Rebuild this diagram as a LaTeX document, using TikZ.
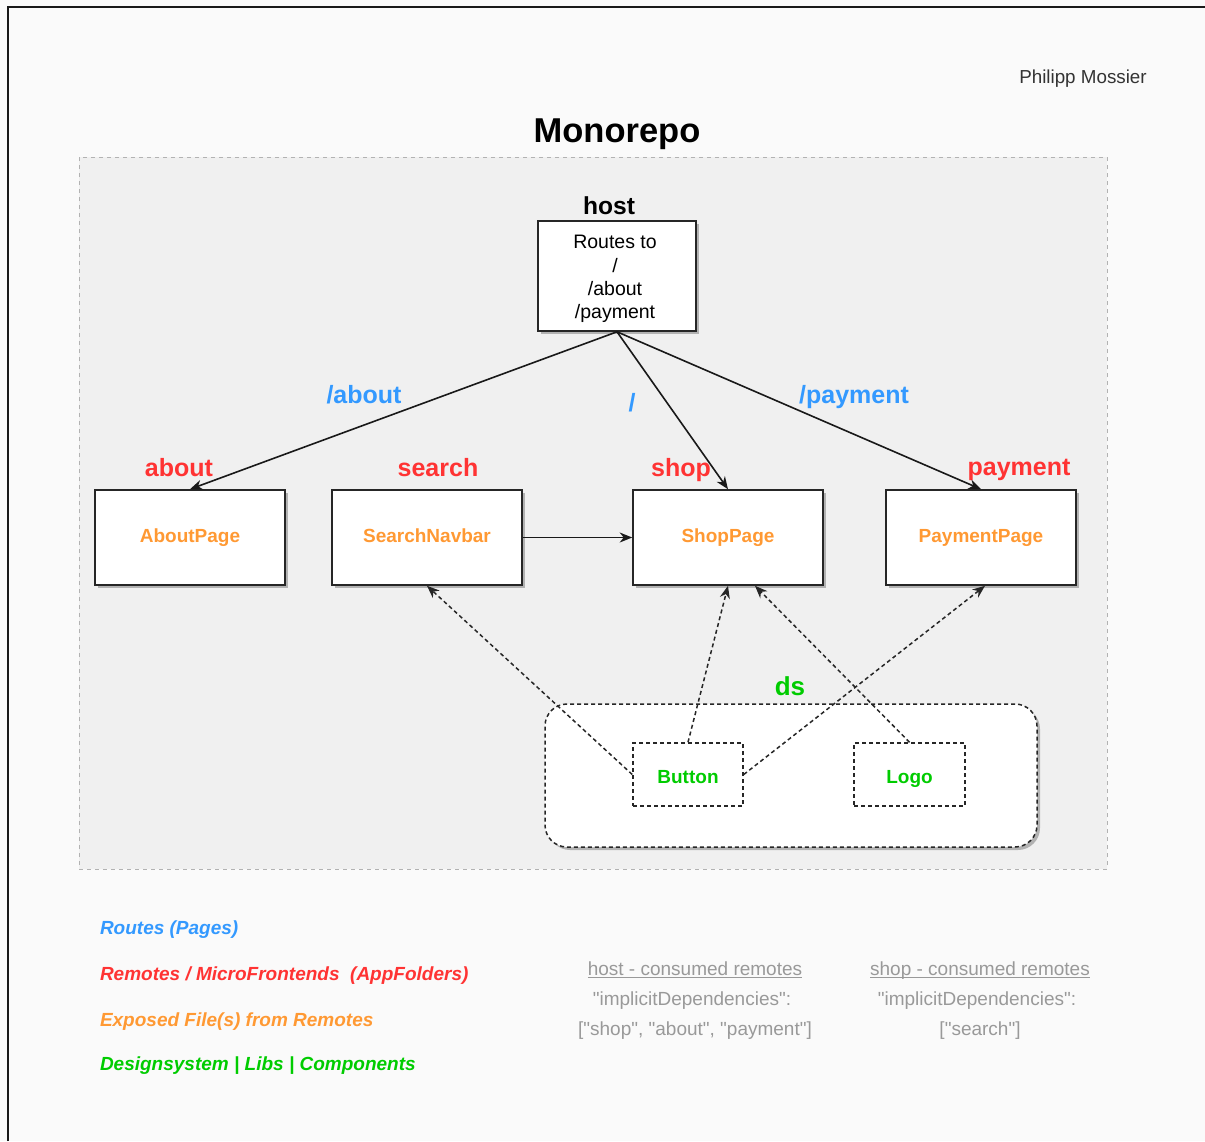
\documentclass[tikz,border=0pt]{standalone}
\usepackage{fontspec}
\setmainfont{Liberation Sans}
% straight quotation marks for the JSON snippets
\newfontfamily\jsonfont{Liberation Sans}[Ligatures=TeXOff]
\usetikzlibrary{arrows.meta,shadows,calc}

\definecolor{routeblue}{HTML}{3399FF}
\definecolor{remotered}{HTML}{FF3333}
\definecolor{exposeorange}{HTML}{FF9933}
\definecolor{dsgreen}{HTML}{00CC00}
\definecolor{notegray}{HTML}{999999}
\definecolor{pagebg}{HTML}{FAFAFA}
\definecolor{repobg}{HTML}{F0F0F0}

\begin{document}
\begin{tikzpicture}[x=1pt,y=-1pt,
  txt/.style={inner sep=0pt, outer sep=0pt},
  boxshadow/.style={drop shadow={shadow xshift=3pt,shadow yshift=-3pt,fill=black!30,opacity=1}},
  pagebox/.style={draw=black!85, line width=1.6pt, fill=white, minimum width=190pt,
    minimum height=95pt, boxshadow, text=exposeorange, text height=13.7pt, text depth=4pt,
    font=\fontsize{19}{23}\selectfont\bfseries},
  hostbox/.style={draw=black!85, line width=1.6pt, fill=white, minimum width=158pt,
    minimum height=110pt, boxshadow},
  libbox/.style={draw=black!85, line width=1.5pt, dash pattern=on 4pt off 3pt,
    fill=white, minimum width=110pt, minimum height=63pt, text=dsgreen,
    font=\fontsize{19}{23}\selectfont\bfseries},
  remotelabel/.style={txt, text=remotered, font=\fontsize{25}{30}\selectfont\bfseries},
  routelabel/.style={txt, text=routeblue, font=\fontsize{25}{30}\selectfont\bfseries},
  legend/.style={txt, anchor=west, font=\fontsize{19}{22}\selectfont\bfseries\itshape},
  note/.style={txt, text=notegray, font=\jsonfont\fontsize{19}{23}\selectfont},
  underline/.style={draw=notegray, line width=1pt},
  link/.style={line width=1.6pt, draw=black!90, -{Stealth[length=12.5pt,width=10pt,inset=4pt]}},
  uses/.style={line width=1.5pt, draw=black!85, dash pattern=on 4pt off 3pt,
    -{Stealth[length=12.5pt,width=10pt,inset=4pt]}}
]
\useasboundingbox (0,0) rectangle (1205,1141);
\fill[pagebg] (0,0) rectangle (1205,1141);
% frame of the sheet
\draw[line width=2pt, black!90] (8,1141) -- (8,7) -- (1205,7);

% author and title
\node[txt, text=black!80, font=\fontsize{18.8}{22}\selectfont] (author) at (1083,79) {Philipp Mossier};
\node[txt, font=\fontsize{34.5}{40}\selectfont\bfseries] (title) at (617,134) {Monorepo};

% monorepo container
\draw[fill=repobg, draw=black!30, line width=1pt, dash pattern=on 4pt off 4pt] (79,157) rectangle (1107,869);

% host application
\node[txt, font=\fontsize{24.6}{30}\selectfont\bfseries] (hostlbl) at (609,206) {host};
\node[hostbox] (host) at (617,276) {};
\node[txt, align=center, font=\fontsize{19.5}{23.2}\selectfont] (hosttext) at (615,279)
  {Routes to\\/\\/about\\/payment};

% remotes and their exposed pages
\node[pagebox] (about) at (190,537.5) {AboutPage};
\node[pagebox] (search) at (427,537.5) {SearchNavbar};
\node[pagebox] (shop) at (728,537.5) {ShopPage};
\node[pagebox] (pay) at (981,537.5) {PaymentPage};

\node[remotelabel] (aboutlbl) at (179,468) {about};
\node[remotelabel] (searchlbl) at (438,468) {search};
\node[remotelabel] (shoplbl) at (681,470) {shop};
\node[remotelabel] (paylbl) at (1019,470) {payment};

% routes
\node[routelabel] (rabout) at (364,395) {/about};
\node[routelabel] (rroot) at (632,403) {/};
\node[routelabel] (rpay) at (854,397) {/payment};

\draw[link] (host.south) -- (about.north);
\draw[link] (host.south) -- (shop.north);
\draw[link] (host.south) -- (pay.north);
\draw[link] (search.east) -- (shop.west);

% design system library
\node[draw=black!85, line width=1.5pt, dash pattern=on 4pt off 3pt, fill=white,
  rounded corners=22pt, minimum width=492pt, minimum height=143pt, boxshadow] (ds) at (791,775.5) {};
\node[txt, text=dsgreen, font=\fontsize{26}{30}\selectfont\bfseries] (dslbl) at (790,686) {ds};
\node[libbox] (button) at (688,774.5) {\raisebox{-9.3pt}[0pt][0pt]{Button}};
\node[libbox, minimum width=111pt] (logo) at (909.5,774.5) {\raisebox{-9.3pt}[0pt][0pt]{Logo}};

\draw[uses] (button.west) -- (search.south);
\draw[uses] (button.north) -- (shop.south);
\draw[uses] (button.east) -- ([xshift=4pt]pay.south);
\draw[uses] (logo.north) -- ([xshift=27pt]shop.south);

% legend
\node[legend, text=routeblue] (lg1) at (100,930) {Routes (Pages)};
\node[legend, text=remotered] (lg2) at (100,976) {Remotes / MicroFrontends\ \ (AppFolders)};
\node[legend, text=exposeorange] (lg3) at (100,1022) {Exposed File(s) from Remotes};
\node[legend, text=dsgreen] (lg4) at (100,1066) {Designsystem | Libs | Components};

% implicit dependency notes
\node[note, anchor=base] (h1) at (695,975) {host - consumed remotes};
\draw[underline] ([yshift=-2.6pt]h1.base west) -- ([yshift=-2.6pt]h1.base east);
\node[note] (h2) at (692,1001) {"implicitDependencies":};
\node[note] (h3) at (695,1031) {["shop", "about", "payment"]};
\node[note, anchor=base] (s1) at (980,975) {shop - consumed remotes};
\draw[underline] ([yshift=-2.6pt]s1.base west) -- ([yshift=-2.6pt]s1.base east);
\node[note] (s2) at (977,1001) {"implicitDependencies":};
\node[note] (s3) at (980,1031) {["search"]};
\end{tikzpicture}
\end{document}
